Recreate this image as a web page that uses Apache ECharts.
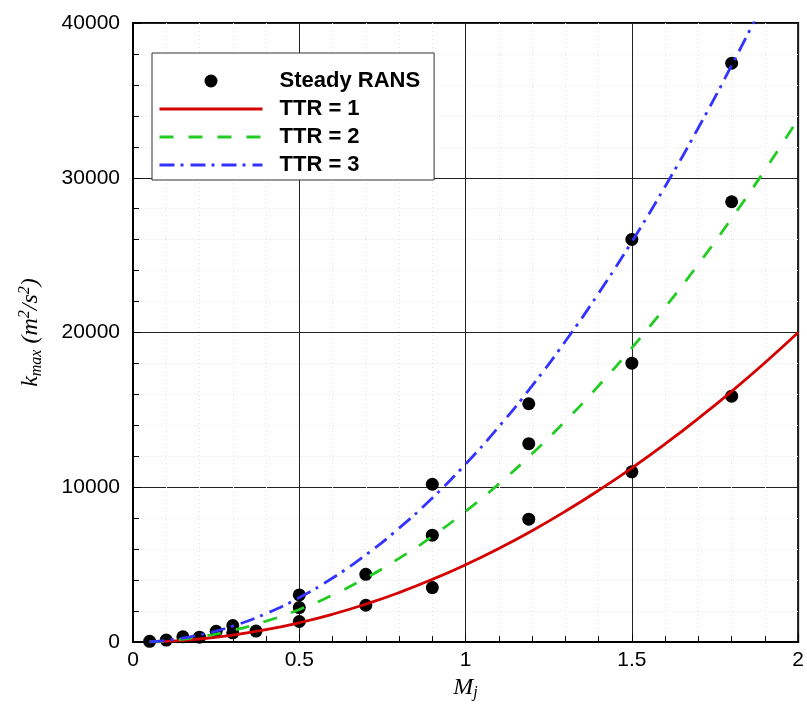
<!DOCTYPE html>
<html>
<head>
<meta charset="utf-8">
<script src="https://cdn.jsdelivr.net/npm/echarts@6/dist/echarts.min.js"></script>
<style>
  html, body { margin: 0; padding: 0; background: #fff; }
  #chart { width: 807px; height: 706px; }
</style>
</head>
<body>
<div id="chart"></div>
<script>
// Steady RANS results: jet Mach number vs. peak turbulent kinetic energy
const ransMj = [0.05, 0.1, 0.15, 0.2, 0.25, 0.3, 0.3, 0.37,
                0.5, 0.5, 0.5, 0.7, 0.7, 0.9, 0.9, 0.9,
                1.19, 1.19, 1.19, 1.5, 1.5, 1.5, 1.8, 1.8, 1.8];
const ransK  = [50, 130, 340, 320, 700, 1070, 600, 710,
                3050, 2230, 1330, 4380, 2380, 10200, 6910, 3520,
                15400, 12820, 7940, 26020, 18020, 11000, 37400, 28450, 15890];

// Model curves for three total temperature ratios
const curveMj = [0.05, 0.1, 0.2, 0.3, 0.4, 0.5, 0.6, 0.7, 0.8, 0.9, 1.0,
                 1.1, 1.2, 1.3, 1.4, 1.5, 1.6, 1.7, 1.8, 1.9, 2.0];
const ttr1K = [12, 50, 200, 450, 800, 1250, 1800, 2450, 3200, 4050, 5000,
               6050, 7200, 8450, 9800, 11250, 12800, 14450, 16200, 18050, 20000];
const ttr2K = [21, 85, 340, 760, 1350, 2110, 3040, 4140, 5410, 6840, 8450,
               10220, 12170, 14280, 16560, 19010, 21630, 24420, 27380, 30500, 33800];
const ttr3K = [29, 115, 460, 1035, 1840, 2875, 4140, 5635, 7360, 9315, 11500,
               13915, 16560, 19435, 22540, 25875, 29440, 33235, 37260, 41515, 46000];

const xTicks = { min: 0, max: 2, interval: 0.5 };
const yTicks = { min: 0, max: 40000, interval: 10000 };

const pairs = (xs, ys) => xs.map((x, i) => [x, ys[i]]);

const chart = echarts.init(document.getElementById('chart'), null, { renderer: 'canvas' });

const labelFont = { fontFamily: 'Liberation Sans, Arial, sans-serif', fontSize: 21, color: '#000' };
const titleFont = { fontFamily: 'Liberation Serif, Times New Roman, serif', fontStyle: 'italic', color: '#000' };

// line entries in the legend show only the stroke, no marker
const lineOnly = { itemStyle: { opacity: 0 }, lineStyle: { width: 3 } };

chart.setOption({
  animation: false,
  backgroundColor: '#fff',
  grid: {
    left: 133, right: 7, top: 23, bottom: 62,
    show: true, borderColor: '#000', borderWidth: 2, backgroundColor: 'transparent'
  },
  legend: {
    left: 152, top: 53,
    orient: 'vertical',
    backgroundColor: '#fff',
    borderColor: '#333', borderWidth: 1,
    padding: [17, 14, 4, 6],
    itemWidth: 103, itemHeight: 13,
    itemGap: 6,
    data: [
      { name: 'Steady RANS' },
      Object.assign({ name: 'TTR = 1' }, lineOnly),
      Object.assign({ name: 'TTR = 2' }, lineOnly),
      Object.assign({ name: 'TTR = 3' }, lineOnly)
    ],
    textStyle: {
      fontFamily: 'Liberation Sans, Arial, sans-serif',
      fontWeight: 'bold', fontSize: 22, lineHeight: 20, color: '#000',
      padding: [0, 0, 0, 12]
    }
  },
  xAxis: {
    type: 'value',
    min: xTicks.min, max: xTicks.max, interval: xTicks.interval,
    name: '{i|M}{sub|j}',
    nameLocation: 'middle', nameGap: 30,
    nameTextStyle: {
      rich: {
        i: Object.assign({ fontSize: 24, lineHeight: 26 }, titleFont),
        sub: Object.assign({ fontSize: 16, lineHeight: 15, verticalAlign: 'bottom' }, titleFont)
      }
    },
    axisLine: { show: true, lineStyle: { color: '#000', width: 2 } },
    axisTick: { show: true, inside: true, length: 8, lineStyle: { color: '#000' } },
    minorTick: { show: true, splitNumber: 5, length: 6, lineStyle: { color: '#000' } },
    axisLabel: Object.assign({ margin: 8, formatter: v => String(v) }, labelFont),
    splitLine: { show: true, lineStyle: { color: '#222', width: 1 } },
    minorSplitLine: { show: true, lineStyle: { color: '#e2e2e2', width: 1, type: [1, 3] } }
  },
  yAxis: {
    type: 'value',
    min: yTicks.min, max: yTicks.max, interval: yTicks.interval,
    name: '{i|k}{sub|max}{i| (m}{sup|2}{i|/s}{sup|2}{i|)}',
    nameLocation: 'middle', nameRotate: 90, nameGap: 88,
    nameTextStyle: {
      rich: {
        i: Object.assign({ fontSize: 24, lineHeight: 28 }, titleFont),
        sub: Object.assign({ fontSize: 16, lineHeight: 15, verticalAlign: 'bottom' }, titleFont),
        sup: Object.assign({ fontSize: 16, lineHeight: 15, verticalAlign: 'top' }, titleFont)
      }
    },
    axisLine: { show: true, lineStyle: { color: '#000', width: 2 } },
    axisTick: { show: true, inside: true, length: 8, lineStyle: { color: '#000' } },
    minorTick: { show: true, splitNumber: 5, length: 6, lineStyle: { color: '#000' } },
    axisLabel: Object.assign({ margin: 13, formatter: v => String(v) }, labelFont),
    splitLine: { show: true, lineStyle: { color: '#222', width: 1 } },
    minorSplitLine: { show: true, lineStyle: { color: '#e2e2e2', width: 1, type: [1, 3] } }
  },
  series: [
    {
      name: 'Steady RANS',
      type: 'scatter',
      data: pairs(ransMj, ransK),
      symbol: 'circle', symbolSize: 13,
      itemStyle: { color: '#000', opacity: 1 },
      z: 2
    },
    {
      name: 'TTR = 1',
      type: 'line', smooth: true, symbol: 'none',
      data: pairs(curveMj, ttr1K),
      lineStyle: { color: '#d40000', width: 2.8 },
      itemStyle: { color: '#d40000' },
      z: 3
    },
    {
      name: 'TTR = 2',
      type: 'line', smooth: true, symbol: 'none',
      data: pairs(curveMj, ttr2K),
      lineStyle: { color: '#22cc22', width: 2.8, type: [14, 15] },
      itemStyle: { color: '#22cc22' },
      z: 3
    },
    {
      name: 'TTR = 3',
      type: 'line', smooth: true, symbol: 'none',
      data: pairs(curveMj, ttr3K),
      lineStyle: { color: '#3333ff', width: 2.8, type: [15, 6, 3, 7] },
      itemStyle: { color: '#3333ff' },
      z: 3
    }
  ]
});
</script>
</body>
</html>
